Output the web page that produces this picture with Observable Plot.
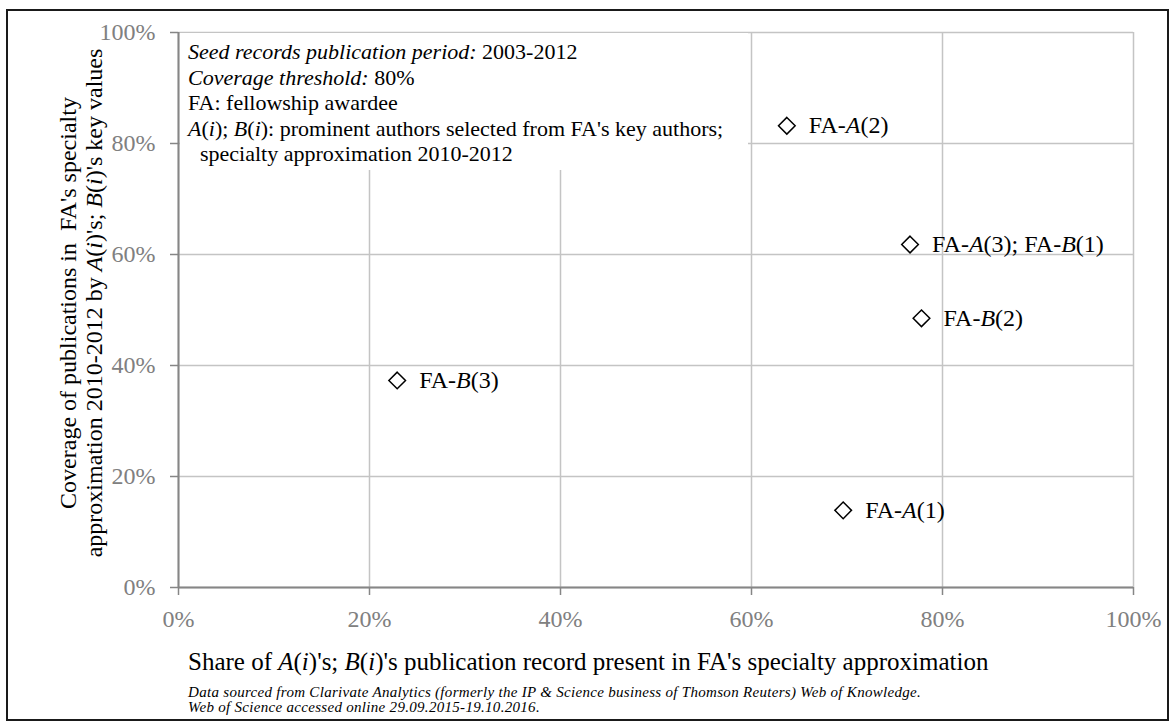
<!DOCTYPE html>
<html>
<head>
<meta charset="utf-8">
<script src="https://cdn.jsdelivr.net/npm/d3@7"></script>
<script src="https://cdn.jsdelivr.net/npm/@observablehq/plot@0.6"></script>
<style>
  html, body { margin: 0; padding: 0; background: #fff; }
  body { width: 1176px; height: 722px; position: relative; overflow: hidden;
         font-family: "Liberation Serif", "Times New Roman", serif; }
  #frame { position: absolute; left: 6px; top: 9px; width: 1163px; height: 712px;
           box-sizing: border-box; border: 2px solid #1a1a1a; }
  #chart { position: absolute; left: 0; top: 0; }
  #note { position: absolute; left: 180px; top: 33px; width: 568px; height: 137px;
          background: #fff; box-sizing: border-box; padding: 6px 0 0 8px;
          font-size: 22px; line-height: 25.5px; color: #000; white-space: nowrap; }
  #ytitle { position: absolute; width: 600px; height: 52px; left: -219px; top: 277px;
            transform: rotate(-90deg); transform-origin: 50% 50%;
            font-size: 24px; line-height: 26px; color: #000; text-align: center; white-space: nowrap; }
  #xtitle { position: absolute; left: 188px; top: 647px; font-size: 25px; line-height: 30px;
            color: #000; white-space: nowrap; }
  #caption { position: absolute; left: 188px; top: 685px; font-size: 15px; line-height: 15px;
             letter-spacing: 0.3px; font-style: italic; color: #000; white-space: nowrap; }
</style>
</head>
<body>
<div id="chart"></div>
<div id="note">
  <div><i>Seed records publication period:</i> 2003-2012</div>
  <div><i>Coverage threshold:</i> 80%</div>
  <div>FA: fellowship awardee</div>
  <div><i>A</i>(<i>i</i>); <i>B</i>(<i>i</i>): prominent authors selected from FA's key authors;</div>
  <div style="padding-left:12px">specialty approximation 2010-2012</div>
</div>
<div id="ytitle">Coverage of publications in&nbsp; FA's specialty<br>approximation 2010-2012 by <i>A</i>(<i>i</i>)'s; <i>B</i>(<i>i</i>)'s key values</div>
<div id="xtitle">Share of <i>A</i>(<i>i</i>)'s; <i>B</i>(<i>i</i>)'s publication record present in FA's specialty approximation</div>
<div id="caption">Data sourced from Clarivate Analytics (formerly the IP &amp; Science business of Thomson Reuters) Web of Knowledge.<br>Web of Science accessed online 29.09.2015-19.10.2016.</div>
<div id="frame"></div>
<script>
// ---- data ----
const labels   = ["FA-A(1)", "FA-A(2)", "FA-A(3); FA-B(1)", "FA-B(2)", "FA-B(3)"];
const share    = [69.6, 63.7, 76.6, 77.8, 22.9];   // x, %
const coverage = [13.9, 83.2, 61.8, 48.5, 37.3];   // y, %
const xTicks = [0, 20, 40, 60, 80, 100];
const yTicks = [0, 20, 40, 60, 80, 100];

const points = labels.map((l, i) => ({label: l, x: share[i], y: coverage[i]}));
const pct = d => d + "%";

const chart = Plot.plot({
  width: 1176,
  height: 640,
  marginLeft: 178,
  marginRight: 43,
  marginTop: 32,
  marginBottom: 53,
  style: {fontFamily: '"Liberation Serif", "Times New Roman", serif', fontSize: "24px", color: "#808080", background: "transparent"},
  x: {domain: [0, 100]},
  y: {domain: [0, 100]},
  marks: [
    Plot.gridX(xTicks, {stroke: "#c4c4c4", strokeOpacity: 1, strokeWidth: 1.5}),
    Plot.gridY(yTicks, {stroke: "#c4c4c4", strokeOpacity: 1, strokeWidth: 1.5}),
    Plot.axisX(xTicks, {tickFormat: pct, tickSize: 8, tickPadding: 14, label: null, fontSize: 24, stroke: "#868686", strokeWidth: 1.5}),
    Plot.axisY(yTicks, {tickFormat: pct, tickSize: 8, tickPadding: 15, label: null, fontSize: 24, stroke: "#868686", strokeWidth: 1.5}),
    Plot.ruleX([0], {stroke: "#868686", strokeWidth: 2}),
    Plot.ruleY([0], {stroke: "#868686", strokeWidth: 2}),
    Plot.dot(points, {x: "x", y: "y", symbol: "diamond2", r: 7.5, stroke: "#000", strokeWidth: 1.5, fill: "none"}),
    Plot.text(points, {x: "x", y: "y", text: "label", textAnchor: "start", dx: 22, fontSize: 24, fill: "#000"})
  ]
});
document.getElementById("chart").appendChild(chart);

// italicise the A / B author letters in the point labels
chart.querySelectorAll('g[aria-label="text"] text').forEach(t => {
  const s = t.textContent;
  t.textContent = "";
  s.split(/([AB](?=\())/).forEach(part => {
    if (!part) return;
    const ts = document.createElementNS("http://www.w3.org/2000/svg", "tspan");
    ts.textContent = part;
    if (/^[AB]$/.test(part)) ts.setAttribute("font-style", "italic");
    t.appendChild(ts);
  });
});
</script>
</body>
</html>
